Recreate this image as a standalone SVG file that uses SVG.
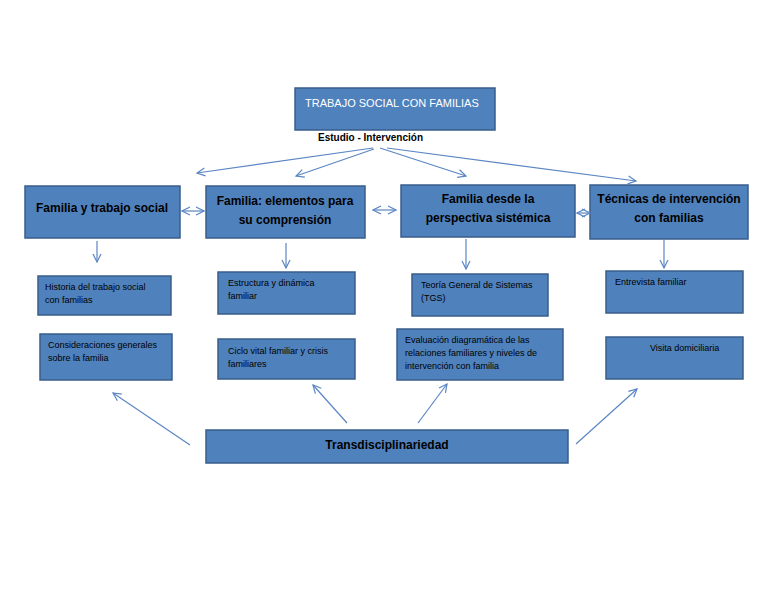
<svg xmlns="http://www.w3.org/2000/svg" width="768" height="594" viewBox="0 0 768 594">
<style>
.b{fill:#4f81bd;stroke:#385d8a;stroke-width:1.5}
text{font-family:"Liberation Sans",Arial,sans-serif;fill:#000}
.h{font-size:12px;font-weight:bold}
.s{font-size:9px}
.c{stroke:#5b86c4;stroke-width:1.2;fill:none;marker-end:url(#a)}
.d{stroke:#5b86c4;stroke-width:1.2;fill:none;marker-end:url(#a);marker-start:url(#as)}
</style>
<defs>
<marker id="a" markerWidth="10" markerHeight="10" refX="9" refY="5" orient="auto" markerUnits="userSpaceOnUse"><path d="M1,1 L9,5 L1,9" fill="none" stroke="#5b86c4" stroke-width="1.2"/></marker>
<marker id="as" markerWidth="10" markerHeight="10" refX="1" refY="5" orient="auto" markerUnits="userSpaceOnUse"><path d="M9,1 L1,5 L9,9" fill="none" stroke="#5b86c4" stroke-width="1.2"/></marker>
</defs>
<rect width="768" height="594" fill="#fff"/>
<g id="top"><rect class="b" x="295" y="88" width="200" height="42"/><text x="305" y="107" font-size="11" style="fill:#fff">TRABAJO SOCIAL CON FAMILIAS</text></g>
<text x="318" y="141" font-size="10" font-weight="bold">Estudio - Intervención</text>
<g id="n1"><rect class="b" x="25" y="186" width="155" height="52"/><text class="h" x="102" y="212" text-anchor="middle">Familia y trabajo social</text></g>
<g id="n2"><rect class="b" x="206" y="186" width="159" height="52"/><text class="h" x="285" y="205" text-anchor="middle">Familia: elementos para</text><text class="h" x="285" y="224" text-anchor="middle">su comprensión</text></g>
<g id="n3"><rect class="b" x="401" y="185" width="174" height="52"/><text class="h" x="488" y="203" text-anchor="middle">Familia desde la</text><text class="h" x="488" y="222" text-anchor="middle">perspectiva sistémica</text></g>
<g id="n4"><rect class="b" x="590" y="185" width="158" height="54"/><text class="h" x="669" y="203" text-anchor="middle">Técnicas de intervención</text><text class="h" x="669" y="222" text-anchor="middle">con familias</text></g>
<g id="n5"><rect class="b" x="38" y="276" width="133" height="39"/><text class="s" x="45" y="290">Historia del trabajo social</text><text class="s" x="45" y="303">con familias</text></g>
<g id="n6"><rect class="b" x="40" y="334" width="132" height="46"/><text class="s" x="48" y="348">Consideraciones generales</text><text class="s" x="48" y="361">sobre la familia</text></g>
<g id="n7"><rect class="b" x="218" y="272" width="137" height="42"/><text class="s" x="228" y="286">Estructura y dinámica</text><text class="s" x="228" y="299">familiar</text></g>
<g id="n8"><rect class="b" x="218" y="339" width="137" height="40"/><text class="s" x="228" y="354">Ciclo vital familiar y crisis</text><text class="s" x="228" y="367">familiares</text></g>
<g id="n9"><rect class="b" x="412" y="274" width="136" height="42"/><text class="s" x="421" y="288">Teoría General de Sistemas</text><text class="s" x="421" y="301">(TGS)</text></g>
<g id="n10"><rect class="b" x="397" y="329" width="166" height="51"/><text class="s" x="405" y="343">Evaluación diagramática de las</text><text class="s" x="405" y="356">relaciones familiares y niveles de</text><text class="s" x="405" y="369">intervención con familia</text></g>
<g id="n11"><rect class="b" x="606" y="271" width="137" height="42"/><text class="s" x="615" y="285">Entrevista familiar</text></g>
<g id="n12"><rect class="b" x="606" y="337" width="137" height="42"/><text class="s" x="650" y="351">Visita domiciliaria</text></g>
<g id="bottom"><rect class="b" x="206" y="430" width="362" height="33"/><text class="h" x="387" y="449" text-anchor="middle">Transdisciplinariedad</text></g>
<g id="connectors">
<path class="c" d="M373,148 L197,173"/>
<path class="c" d="M374,149 L296,176"/>
<path class="c" d="M380,148 L466,176"/>
<path class="c" d="M387,148 L636,181"/>
<path class="d" d="M182,211 L204,211"/>
<path class="d" d="M373,210 L396,210"/>
<path class="d" d="M577,213 L590,213"/>
<path class="c" d="M97,241 L97,262"/>
<path class="c" d="M286,243 L286,268"/>
<path class="c" d="M466,239 L466,269"/>
<path class="c" d="M664,240 L664,268"/>
<path class="c" d="M190,445 L113,393"/>
<path class="c" d="M347,423 L313,385"/>
<path class="c" d="M418,423 L447,384"/>
<path class="c" d="M576,444 L637,389"/>
</g>
</svg>
